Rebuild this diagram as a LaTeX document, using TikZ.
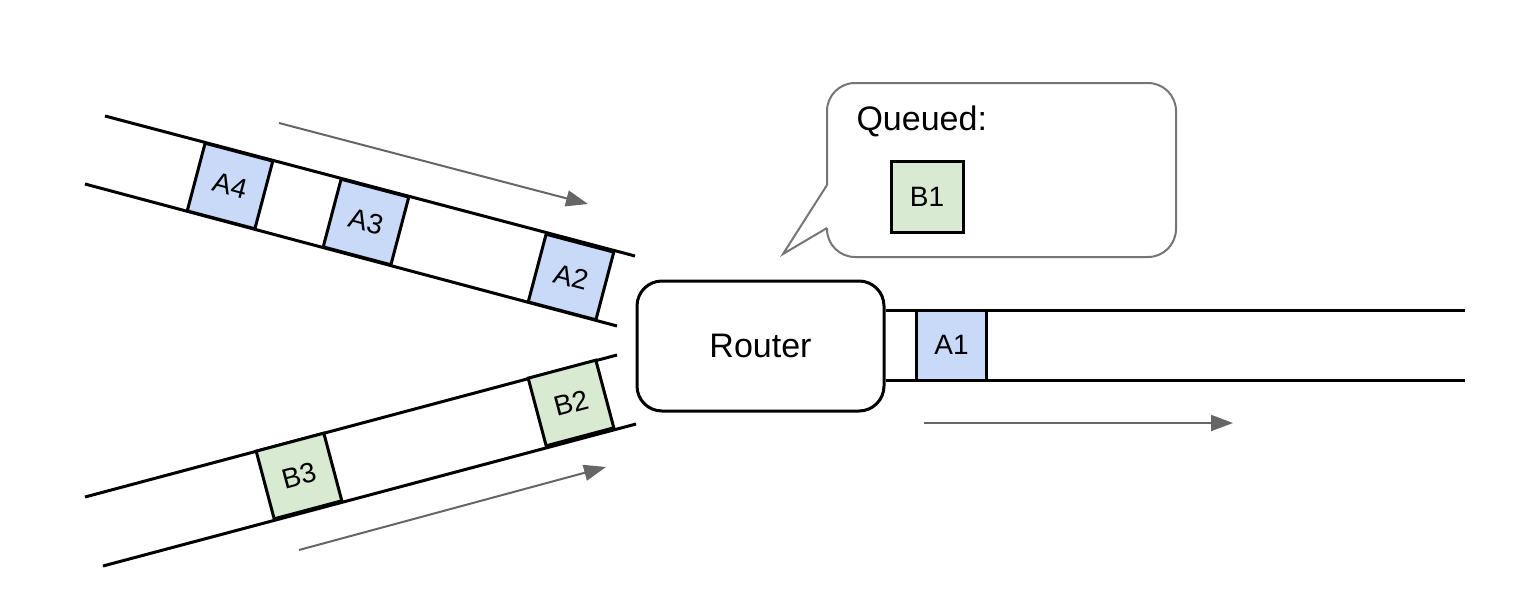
\documentclass[tikz,border=0pt]{standalone}
\usepackage{fontspec}
\setmainfont{Liberation Sans}
\usepackage{tikz}
\usetikzlibrary{arrows.meta}
\definecolor{pktblue}{HTML}{C9DAF8}
\definecolor{pktgreen}{HTML}{D9EAD3}
\definecolor{flowgray}{HTML}{666666}
\definecolor{bubblegray}{HTML}{757575}

\begin{document}
\begin{tikzpicture}[x=1pt, y=-1pt,
    wire/.style={line width=3pt},
    pkt/.style={draw, line width=3pt, minimum width=70pt, minimum height=70pt,
      inner sep=0pt, font=\fontsize{28}{30}\selectfont},
    flow/.style={flowgray, line width=2pt, -{Triangle[length=22pt,width=16pt]}},
    bubble/.style={bubblegray, line width=2pt}]
  \useasboundingbox (0,0) rectangle (1524,589);

  % links
  \draw[wire] (105,116) -- (635,256);
  \draw[wire] (85,184) -- (617,326);
  \draw[wire] (85,497) -- (617,355);
  \draw[wire] (103,566) -- (636,424);

  \node (router) [draw, line width=3pt, rounded corners=25pt, minimum width=247pt,
    minimum height=130pt, font=\fontsize{34}{38}\selectfont] at (760.5,346) {Router};
  \draw[wire] (router.east |- 0,310) -- (1465,310);
  \draw[wire] (router.east |- 0,380) -- (1465,380);

  \node (afour) [pkt, fill=pktblue, rotate=-14.8] at (230,186) {A4};
  \node (athree) [pkt, fill=pktblue, rotate=-14.8] at (366,222) {A3};
  \node (atwo) [pkt, fill=pktblue, rotate=-14.8] at (571,277) {A2};
  \node (aone) [pkt, fill=pktblue] at (951.5,345) {A1};
  \node (bthree) [pkt, fill=pktgreen, rotate=14.9] at (299,476) {B3};
  \node (btwo) [pkt, fill=pktgreen, rotate=14.9] at (571,403) {B2};

  % direction of travel
  \coordinate (ain) at (279,123);
  \coordinate (aout) at (588,204);
  \coordinate (bin) at (299,550);
  \coordinate (bout) at (606,467);
  \coordinate (oin) at (924,423);
  \coordinate (oout) at (1233,423);
  \draw[flow] (ain) -- (aout);
  \draw[flow] (bin) -- (bout);
  \draw[flow] (oin) -- (oout);

  % queue bubble
  \draw[bubble, rounded corners=28pt] (827,228) -- (827,257) -- (1176,257) -- (1176,83)
    -- (827,83) -- (827,185);
  \draw[bubble] (827,185) -- (783,254) -- (827,228);
  \node (queued) [anchor=west, font=\fontsize{34}{38}\selectfont] at (853,121) {Queued:};
  \node (bone) [pkt, fill=pktgreen, minimum width=72pt, minimum height=71pt] at (927,196.5) {B1};
\end{tikzpicture}
\end{document}
